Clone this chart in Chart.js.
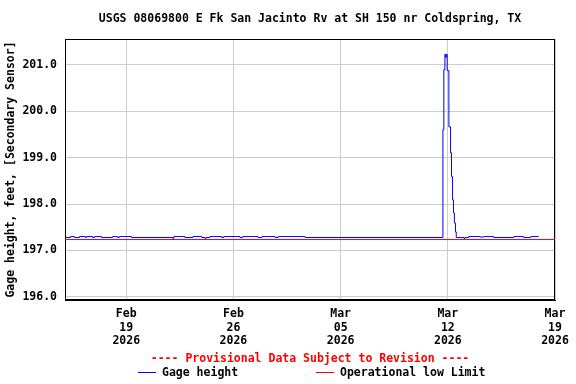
<!DOCTYPE html>
<html>
<head>
<meta charset="utf-8">
<script src="https://cdn.jsdelivr.net/npm/chart.js@4"></script>
<style>
  body { margin: 0; background: #fff; }
</style>
</head>
<body>
<canvas id="gage" width="576" height="384"></canvas>
<script>
// days since Feb 15 2026 00:00, value holds until the next point
const gageDays = [0, 0.36, 0.62, 0.95, 1.34, 1.41, 1.80, 1.93, 2.39, 3.11, 3.44, 3.54, 4.35,
    7.04, 7.11, 7.83, 8.35, 8.94, 9.14, 9.21, 9.46, 10.24, 10.37, 11.43, 11.62, 12.60, 12.87,
    13.72, 13.92, 15.68, 24.68, 24.74, 24.81, 24.86, 24.90, 24.96, 25.07, 25.18, 25.24, 25.31,
    25.37, 25.43, 25.50, 25.55, 26.05, 26.12, 26.36, 27.10, 27.35, 28.00, 29.31, 29.96, 30.42, 30.94];
const gageHeight = [197.28, 197.30, 197.28, 197.30, 197.28, 197.30, 197.28, 197.30, 197.28, 197.30, 197.28, 197.30, 197.28,
    197.26, 197.30, 197.28, 197.30, 197.28, 197.26, 197.28, 197.30, 197.28, 197.30, 197.28, 197.30, 197.28, 197.30,
    197.28, 197.30, 197.28, 199.60, 200.89, 201.22, 201.15, 201.22, 200.87, 199.66, 199.10, 198.59, 198.09,
    197.81, 197.59, 197.40, 197.28, 197.26, 197.28, 197.30, 197.29, 197.30, 197.28, 197.30, 197.28, 197.30, 197.30];

const lowLimitDays = [0, 32];
const lowLimit = [197.237, 197.237];

const xTickDays = [4, 11, 18, 25, 32];
const xTickLabels = [['Feb', '19', '2026'], ['Feb', '26', '2026'], ['Mar', '05', '2026'],
    ['Mar', '12', '2026'], ['Mar', '19', '2026']];
const yTicks = [196, 197, 198, 199, 200, 201];

const BLUE = '#0000ff';
const RED = '#ff0000';
const font = { family: 'DejaVu Sans Mono', weight: 'bold', size: 11.5 };

// black box round the plot
const frame = {
    id: 'frame',
    beforeDatasetsDraw(chart) {
        const { ctx, chartArea: a } = chart;
        ctx.save();
        ctx.strokeStyle = '#000';
        ctx.lineWidth = 1;
        ctx.strokeRect(Math.round(a.left) + 0.5, Math.round(a.top) + 0.5,
            Math.round(a.right - a.left) - 1, Math.round(a.bottom - a.top) - 1);
        ctx.restore();
    }
};

// legend row under the provisional note
const legendItems = [
    { text: 'Gage height', color: BLUE },
    { text: 'Operational low Limit', color: RED }
];
const bottomLegend = {
    id: 'bottomLegend',
    afterDraw(chart) {
        const { ctx, chartArea: a } = chart;
        const lineW = 18, gap = 6, spacing = 78, y = 372;
        ctx.save();
        ctx.font = 'bold 11.5px "DejaVu Sans Mono"';
        const widths = legendItems.map(it => ctx.measureText(it.text).width);
        const total = widths.reduce((s, w) => s + w + lineW + gap, 0) + spacing * (legendItems.length - 1);
        let x = Math.round((a.left + a.right) / 2 - total / 2 + 2);
        ctx.textBaseline = 'middle';
        ctx.textAlign = 'left';
        legendItems.forEach((it, i) => {
            ctx.fillStyle = it.color;
            ctx.fillRect(x, y, lineW, 1);
            ctx.fillStyle = '#000';
            ctx.fillText(it.text, x + lineW + gap, y + 1);
            x = Math.round(x + lineW + gap + widths[i] + spacing);
        });
        ctx.restore();
    }
};

new Chart(document.getElementById('gage'), {
    type: 'line',
    data: {
        datasets: [
            {
                label: 'Gage height',
                data: gageDays.map((d, i) => ({ x: d, y: gageHeight[i] })),
                borderColor: BLUE,
                backgroundColor: BLUE,
                borderWidth: 1,
                stepped: true,
                pointRadius: 0
            },
            {
                label: 'Operational low Limit',
                data: lowLimitDays.map((d, i) => ({ x: d, y: lowLimit[i] })),
                borderColor: RED,
                backgroundColor: RED,
                borderWidth: 1,
                pointRadius: 0
            }
        ]
    },
    options: {
        responsive: false,
        animation: false,
        layout: { padding: { left: 0, right: 21, top: 0, bottom: 18 } },
        plugins: {
            legend: { display: false },
            tooltip: { enabled: false },
            title: {
                display: true,
                text: 'USGS 08069800 E Fk San Jacinto Rv at SH 150 nr Coldspring, TX',
                color: '#000',
                font: font,
                fullSize: false,
                padding: { top: 12, bottom: 13.2 }
            },
            subtitle: {
                display: true,
                position: 'bottom',
                text: '---- Provisional Data Subject to Revision ----',
                color: RED,
                font: font,
                fullSize: false,
                padding: 0
            }
        },
        scales: {
            x: {
                type: 'linear',
                min: 0,
                max: 32,
                afterBuildTicks: s => { s.ticks = xTickDays.map(v => ({ value: v })); },
                afterFit: s => { s.height = 52.2; },
                ticks: {
                    color: '#000',
                    font: font,
                    padding: 7,
                    maxRotation: 0,
                    autoSkip: false,
                    callback: v => xTickLabels[xTickDays.indexOf(v)]
                },
                grid: { color: '#cccccc', drawTicks: false },
                border: { color: '#000', width: 1 }
            },
            y: {
                min: 195.935,
                max: 201.55,
                afterBuildTicks: s => { s.ticks = yTicks.map(v => ({ value: v })); },
                afterFit: s => { s.width = 65; },
                ticks: {
                    color: '#000',
                    font: font,
                    padding: 8,
                    callback: v => v.toFixed(1)
                },
                grid: { color: '#cccccc', drawTicks: false },
                border: { color: '#000', width: 1 },
                title: {
                    display: true,
                    text: 'Gage height, feet, [Secondary Sensor]',
                    color: '#000',
                    font: font,
                    padding: { top: 4, bottom: 0 }
                }
            }
        }
    },
    plugins: [frame, bottomLegend]
});
</script>
</body>
</html>
